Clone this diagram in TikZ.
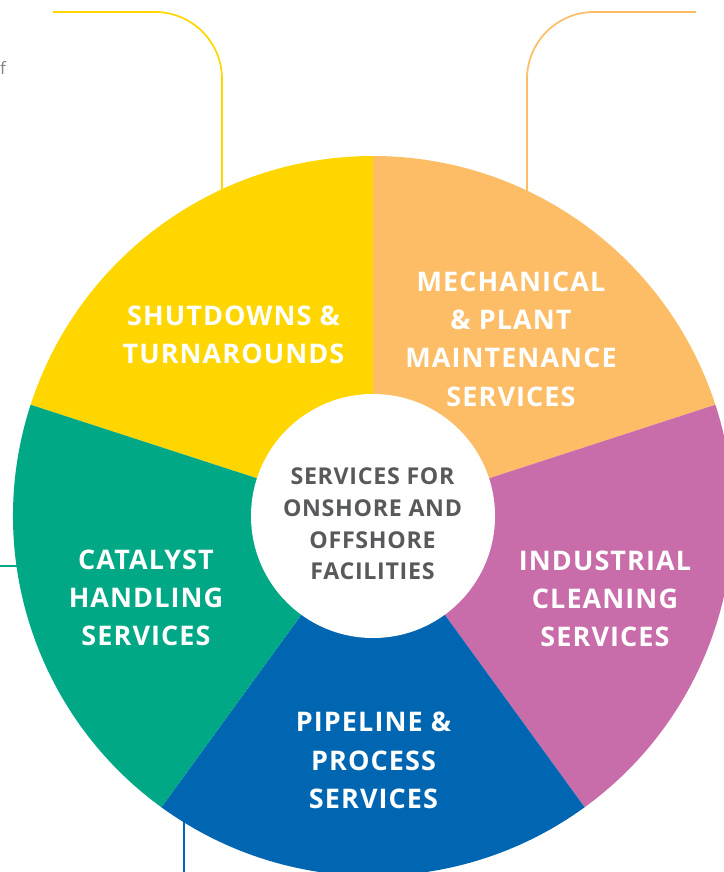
\documentclass[tikz,border=0pt]{standalone}
\usepackage{fontspec}
\setmainfont{Open Sans}
\definecolor{cyel}{HTML}{FFD600}
\definecolor{corg}{HTML}{FDBD66}
\definecolor{cpnk}{HTML}{C96CAA}
\definecolor{cgrn}{HTML}{00A885}
\definecolor{cblu}{HTML}{0066B2}
\definecolor{cgry}{HTML}{58595B}
\begin{document}
\begin{tikzpicture}[x=1pt,y=-1pt,
  lbl/.style={text=white,font=\bfseries\fontsize{27}{38.3}\selectfont\addfontfeature{LetterSpace=4},align=center,inner sep=0pt},
  ctr/.style={text=cgry,font=\bfseries\fontsize{23.2}{31.7}\selectfont\addfontfeature{LetterSpace=3},align=center,inner sep=0pt},
  conn/.style={line width=1.7pt,rounded corners=67pt}]
\useasboundingbox (0,0) rectangle (723,872);
\coordinate (C) at (373,516);
% connector lines (drawn first, sectors cover their ends)
\coordinate (ya) at (222,220);
\coordinate (yb) at (222,12);
\coordinate (yc) at (53,12);
\draw[conn,cyel] (ya) -- (yb) -- (yc);
\coordinate (oa) at (527,220);
\coordinate (ob) at (527,12);
\coordinate (oc) at (696,12);
\draw[conn,corg] (oa) -- (ob) -- (oc);
\coordinate (ga) at (0,566);
\coordinate (gb) at (40,566);
\draw[line width=1.5pt,cgrn] (ga) -- (gb);
\coordinate (ba) at (184,790);
\coordinate (bb) at (184,880);
\draw[line width=1.5pt,cblu] (ba) -- (bb);
% sectors
\fill[cyel] (C) -- ++(90:360pt) arc[start angle=90,end angle=162,radius=360pt] -- cycle;
\fill[corg] (C) -- ++(18:360pt) arc[start angle=18,end angle=90,radius=360pt] -- cycle;
\fill[cpnk] (C) -- ++(-54:360pt) arc[start angle=-54,end angle=18,radius=360pt] -- cycle;
\fill[cblu] (C) -- ++(-126:360pt) arc[start angle=-126,end angle=-54,radius=360pt] -- cycle;
\fill[cgrn] (C) -- ++(162:360pt) arc[start angle=162,end angle=234,radius=360pt] -- cycle;
\fill[white] (C) circle[radius=122pt];
% labels
\node[lbl] (sd) at (233.5,334.5) {SHUTDOWNS \&\\TURNAROUNDS};
\node[lbl] (mp) at (511,339) {MECHANICAL\\\& PLANT\\MAINTENANCE\\SERVICES};
\node[lbl] (ic) at (605,599) {INDUSTRIAL\\CLEANING\\SERVICES};
\node[lbl] (pp) at (373.5,760.5) {PIPELINE \&\\PROCESS\\SERVICES};
\node[lbl] (ch) at (146,598) {CATALYST\\HANDLING\\SERVICES};
\node[ctr] (sf) at (372.5,524) {SERVICES FOR\\ONSHORE AND\\OFFSHORE\\FACILITIES};
\node[anchor=base west,inner sep=0pt,text=gray,font=\fontsize{17}{20}\selectfont] (of) at (0,75) {f};
\end{tikzpicture}
\end{document}
